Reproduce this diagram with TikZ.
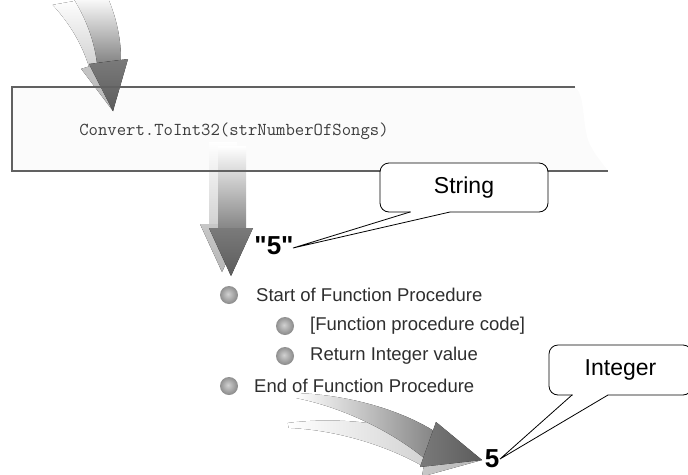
\documentclass[tikz,border=0pt]{standalone}
\usepackage{fontspec}
\setmainfont{Liberation Sans}
\newfontfamily\valuefont{Liberation Sans}

% soft grey ball used for the list bullets
\pgfdeclareradialshading{bulletshade}{\pgfpoint{-3bp}{3bp}}{%
  color(0bp)=(black!18); color(22bp)=(black!42); color(50bp)=(black!66)}

% outlines of the three swoosh arrows
\def\TopShaft{(72,-4) .. controls (86,18) and (94,40) .. (97,63)
  -- (121,60) .. controls (121,40) and (117,18) .. (107,-4) -- cycle}
\def\TopHead{(89,64) -- (128,59) -- (113,111) -- cycle}
\def\MidShaft{(218,146) -- (246,146) -- (246,229) -- (218,229) -- cycle}
\def\MidHead{(209,228) -- (253,228) -- (231,276) -- cycle}
\def\LowShaft{(296,393) .. controls (350,395) and (400,410) .. (434,431)
  -- (424,458) .. controls (392,432) and (345,408) .. (296,398) -- cycle}
\def\LowHead{(436,422) -- (482,460) -- (420,467) -- cycle}

\tikzset{
  frame/.style={draw=black!62, line width=2pt},
  boxfill/.style={fill=black!1.5},
  codetext/.style={font=\ttfamily\fontsize{18.2}{21}\selectfont, text=black!76, inner sep=0pt},
  itemtext/.style={font=\fontsize{18.5}{22}\selectfont, text=black!82, anchor=west, inner sep=0pt},
  bullet/.style={circle, minimum size=18pt, inner sep=0pt, shading=bulletshade},
  callout/.style={draw=black, line width=0.8pt, fill=white, rounded corners=9pt,
    inner sep=0pt, font=\fontsize{23}{27}\selectfont},
  pointer/.style={draw=black, line width=0.8pt, line join=miter},
  value/.style={font=\valuefont\bfseries\fontsize{26}{30}\selectfont, inner sep=0pt},
  vshaft/.style={top color=white, bottom color=black!48},
  vhead/.style={top color=black!52, bottom color=black!64},
  vshaftlight/.style={top color=white, bottom color=black!18},
  vheadlight/.style={top color=black!22, bottom color=black!28},
  hshaft/.style={left color=white, right color=black!48},
  hhead/.style={left color=black!52, right color=black!64},
  hshaftlight/.style={left color=white, right color=black!18},
  hheadlight/.style={left color=black!22, right color=black!28},
}

\begin{document}
\begin{tikzpicture}[x=1pt, y=-1pt]
\useasboundingbox (0,0) rectangle (688,474);
\clip (0,0) rectangle (688,474);

% code panel with a torn right edge
\fill[boxfill] (12,87) -- (575,87) .. controls (585,95) and (582,120) .. (588,140)
  .. controls (594,155) and (602,162) .. (608,171) -- (12,171) -- cycle;

% incoming arrow, with its pale echo
\begin{scope}[rotate around={10:(113,111)}]
  \fill[vshaftlight] \TopShaft;
  \fill[vheadlight] \TopHead;
\end{scope}
\fill[vshaft] \TopShaft;
\fill[vhead] \TopHead;

% arrow out of the call
\begin{scope}[shift={(-9,-4)}]
  \fill[vshaftlight] \MidShaft;
  \fill[vheadlight] \MidHead;
\end{scope}
\fill[vshaft] \MidShaft;
\fill[vhead] \MidHead;

% panel frame (open on the right)
\draw[frame] (575,87) -- (12,87) -- (12,171) -- (608,171);
\node[codetext] (call) at (234,131) {Convert.ToInt32(strNumberOfSongs)};

% returned value arrow
\begin{scope}[rotate around={9:(482,460)}]
  \fill[hshaftlight] \LowShaft;
  \fill[hheadlight] \LowHead;
\end{scope}
\fill[hshaft] \LowShaft;
\fill[hhead] \LowHead;

% argument value
\node[value] (strval) at (274,246) {"5"};
\coordinate (strtip) at (293,248);

% function procedure outline
\node[bullet] (b1) at (229,295) {};
\node[itemtext] (t1) at (256,295) {Start of Function Procedure};
\node[bullet] (b2) at (285,326) {};
\node[itemtext] (t2) at (310,326) {[Function procedure code]};
\node[bullet] (b3) at (285,356) {};
\node[itemtext] (t3) at (310,356) {Return Integer value};
\node[bullet] (b4) at (229,386) {};
\node[itemtext] (t4) at (254,386) {End of Function Procedure};

% result value
\node[value] (intval) at (492,459) {5};
\coordinate (inttip) at (500,459);

% "String" callout
\node[callout, minimum width=168pt, minimum height=49pt] (strcall) at (464,187.5) {String};
\coordinate (sa) at (410,212);
\coordinate (sb) at (450,212);
\fill[white] (410.5,210) rectangle (449.5,214);
\draw[pointer] (sa) -- (strtip) -- (sb);

% "Integer" callout
\node[callout, minimum width=143pt, minimum height=50pt] (intcall) at (620.5,370) {Integer};
\coordinate (ia) at (572,395);
\coordinate (ib) at (608,395);
\fill[white] (572.5,393) rectangle (607.5,397);
\draw[pointer] (ia) -- (inttip) -- (ib);
\end{tikzpicture}
\end{document}
